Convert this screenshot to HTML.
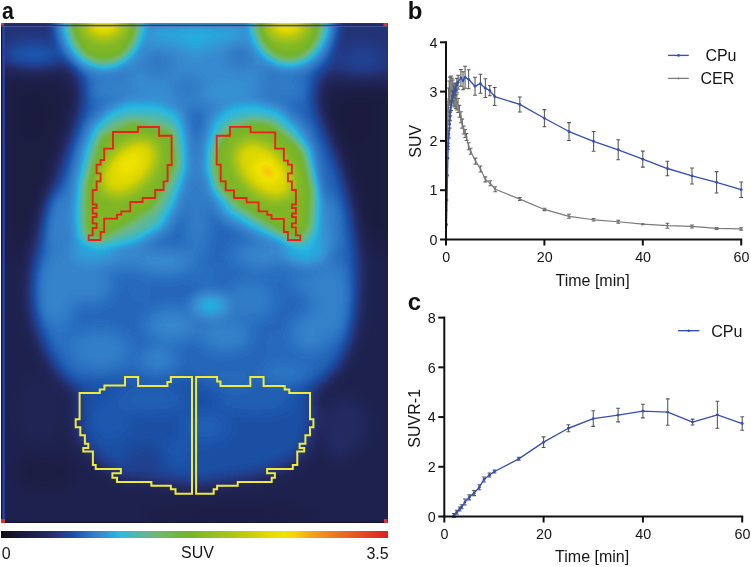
<!DOCTYPE html>
<html><head><meta charset="utf-8">
<style>
html,body{margin:0;padding:0;background:#fff;width:751px;height:567px;overflow:hidden}
svg{display:block}
body>svg{will-change:transform}
text{font-family:"Liberation Sans",sans-serif;fill:#161616}
.tk{font-size:14.3px}
.lb{font-size:16px}
.pl{font-size:24px;font-weight:bold;fill:#111}
</style></head><body>
<svg width="751" height="567" viewBox="0 0 751 567">
<defs>
<filter id="cm" x="-10%" y="-10%" width="120%" height="120%" color-interpolation-filters="sRGB">
<feGaussianBlur stdDeviation="4"/>
<feComponentTransfer>
<feFuncR type="table" tableValues="0.0314 0.0491 0.0669 0.0782 0.0878 0.0963 0.1027 0.1090 0.1154 0.1218 0.1282 0.1346 0.1410 0.1396 0.1380 0.1325 0.1234 0.1109 0.1079 0.1262 0.1444 0.1627 0.1800 0.1972 0.2144 0.2132 0.2041 0.1592 0.1366 0.1792 0.2084 0.2339 0.2638 0.3021 0.3404 0.3676 0.3931 0.4133 0.4260 0.4388 0.4392 0.4392 0.4392 0.4392 0.4400 0.4528 0.4655 0.4830 0.5034 0.5238 0.5443 0.5647 0.5852 0.6056 0.6261 0.6465 0.6670 0.6874 0.7079 0.7300 0.7556 0.7811 0.8067 0.8323 0.8578 0.8809 0.8937 0.9065 0.9192 0.9320 0.9448 0.9576 0.9704 0.9690 0.9648 0.9605 0.9562 0.9514 0.9466 0.9418 0.9370 0.9322 0.9274 0.9226 0.9178 0.9130 0.9088 0.9056 0.9024 0.8992 0.8960 0.8926 0.8891 0.8855 0.8820 0.8784"/>
<feFuncG type="table" tableValues="0.0314 0.0491 0.0669 0.0794 0.0906 0.1007 0.1087 0.1167 0.1261 0.1357 0.1466 0.1594 0.1722 0.1943 0.2166 0.2404 0.2655 0.2940 0.3256 0.3621 0.3986 0.4352 0.4654 0.4949 0.5244 0.5588 0.5953 0.6497 0.6958 0.7171 0.7216 0.7216 0.7216 0.7216 0.7216 0.7216 0.7216 0.7216 0.7216 0.7216 0.7216 0.7216 0.7183 0.7119 0.7059 0.7059 0.7059 0.7105 0.7182 0.7259 0.7335 0.7412 0.7489 0.7553 0.7604 0.7656 0.7707 0.7758 0.7809 0.7877 0.7979 0.8081 0.8184 0.8286 0.8388 0.8489 0.8585 0.8681 0.8777 0.8873 0.8850 0.8531 0.8211 0.7804 0.7378 0.6951 0.6541 0.6222 0.5902 0.5583 0.5263 0.4959 0.4703 0.4448 0.4192 0.3936 0.3670 0.3383 0.3095 0.2808 0.2520 0.2249 0.2000 0.1752 0.1503 0.1255"/>
<feFuncB type="table" tableValues="0.0627 0.1053 0.1479 0.1771 0.2026 0.2260 0.2452 0.2644 0.2892 0.3147 0.3417 0.3704 0.3992 0.4497 0.5008 0.5420 0.5740 0.6229 0.6677 0.6951 0.7225 0.7499 0.7682 0.7854 0.8026 0.8206 0.8388 0.8616 0.8784 0.8784 0.8381 0.7870 0.7359 0.6848 0.6337 0.5938 0.5554 0.5117 0.4605 0.4094 0.3707 0.3324 0.2940 0.2557 0.2181 0.1925 0.1670 0.1538 0.1487 0.1435 0.1384 0.1333 0.1282 0.1207 0.1105 0.1003 0.0900 0.0798 0.0696 0.0594 0.0491 0.0389 0.0287 0.0185 0.0082 0.0000 0.0000 0.0000 0.0000 0.0000 0.0036 0.0164 0.0292 0.0455 0.0625 0.0796 0.0951 0.1014 0.1078 0.1142 0.1206 0.1255 0.1255 0.1255 0.1255 0.1255 0.1255 0.1255 0.1255 0.1255 0.1255 0.1255 0.1255 0.1255 0.1255 0.1255"/>
</feComponentTransfer>
</filter>
<filter id="pb7" x="-20%" y="-20%" width="140%" height="140%" color-interpolation-filters="sRGB"><feGaussianBlur stdDeviation="7"/></filter>
<filter id="pb3" x="-20%" y="-20%" width="140%" height="140%" color-interpolation-filters="sRGB"><feGaussianBlur stdDeviation="3"/></filter>
<linearGradient id="cbg" x1="0" y1="0" x2="1" y2="0">
<stop offset="0.0000" stop-color="rgb(8,8,16)"/>
<stop offset="0.0233" stop-color="rgb(18,18,40)"/>
<stop offset="0.0491" stop-color="rgb(24,25,56)"/>
<stop offset="0.0749" stop-color="rgb(28,30,68)"/>
<stop offset="0.1008" stop-color="rgb(32,36,84)"/>
<stop offset="0.1266" stop-color="rgb(36,44,102)"/>
<stop offset="0.1525" stop-color="rgb(35,58,134)"/>
<stop offset="0.1705" stop-color="rgb(31,69,148)"/>
<stop offset="0.1860" stop-color="rgb(26,80,168)"/>
<stop offset="0.2222" stop-color="rgb(42,112,192)"/>
<stop offset="0.2558" stop-color="rgb(56,136,206)"/>
<stop offset="0.2739" stop-color="rgb(52,152,214)"/>
<stop offset="0.2920" stop-color="rgb(32,176,224)"/>
<stop offset="0.3075" stop-color="rgb(48,184,224)"/>
<stop offset="0.3333" stop-color="rgb(64,184,192)"/>
<stop offset="0.3592" stop-color="rgb(88,184,160)"/>
<stop offset="0.3850" stop-color="rgb(104,184,136)"/>
<stop offset="0.4109" stop-color="rgb(112,184,104)"/>
<stop offset="0.4367" stop-color="rgb(112,184,80)"/>
<stop offset="0.4625" stop-color="rgb(112,180,56)"/>
<stop offset="0.4884" stop-color="rgb(120,180,40)"/>
<stop offset="0.5530" stop-color="rgb(152,192,32)"/>
<stop offset="0.6176" stop-color="rgb(184,200,16)"/>
<stop offset="0.6822" stop-color="rgb(224,216,0)"/>
<stop offset="0.7339" stop-color="rgb(240,228,0)"/>
<stop offset="0.7597" stop-color="rgb(248,208,8)"/>
<stop offset="0.7984" stop-color="rgb(244,168,24)"/>
<stop offset="0.8501" stop-color="rgb(238,128,32)"/>
<stop offset="0.9018" stop-color="rgb(232,96,32)"/>
<stop offset="0.9535" stop-color="rgb(228,60,32)"/>
<stop offset="1.0000" stop-color="rgb(224,32,32)"/>
</linearGradient>
</defs>
<svg x="1" y="23" width="387" height="500" overflow="hidden">
<g transform="translate(-1,-23)">
<g filter="url(#cm)">
<g filter="url(#pb7)">
<rect x="-40" y="-20" width="470" height="580" fill="rgb(23,23,23)"/>
<polygon points="-40.0,-20.0 430.0,-20.0 430.0,80.0 340.0,80.0 300.0,75.0 90.0,80.0 60.0,66.0 -40.0,66.0" fill="rgb(36,36,36)"/>
<ellipse cx="34" cy="56" rx="30" ry="13" fill="rgb(51,51,51)"/>
<ellipse cx="362" cy="60" rx="22" ry="13" fill="rgb(43,43,43)"/>
<polygon points="8.0,74.0 48.0,74.0 80.0,99.0 66.0,135.0 50.0,190.0 36.0,240.0 22.0,262.0 8.0,262.0" fill="rgb(20,20,20)"/>
<polygon points="10.0,86.0 44.0,86.0 64.0,102.0 54.0,135.0 42.0,185.0 30.0,225.0 10.0,235.0" fill="rgb(18,18,18)"/>
<ellipse cx="32" cy="115" rx="16" ry="22" fill="rgb(16,16,16)"/>
<polygon points="392.0,82.0 332.0,82.0 316.0,104.0 326.0,150.0 346.0,200.0 358.0,245.0 392.0,260.0" fill="rgb(20,20,20)"/>
<polygon points="392.0,92.0 340.0,94.0 328.0,110.0 338.0,150.0 354.0,195.0 364.0,232.0 392.0,240.0" fill="rgb(17,17,17)"/>
<ellipse cx="355" cy="118" rx="18" ry="25" fill="rgb(16,16,16)"/>
<ellipse cx="45" cy="472" rx="30" ry="18" fill="rgb(19,19,19)"/>
<ellipse cx="230" cy="515" rx="90" ry="12" fill="rgb(20,20,20)"/>
<polygon points="73.0,0.0 73.0,60.0 80.0,80.0 82.0,100.0 75.0,125.0 66.0,150.0 58.0,175.0 48.0,200.0 40.0,230.0 33.0,260.0 31.0,290.0 33.0,320.0 42.0,345.0 55.0,370.0 73.0,388.0 100.0,392.0 200.0,390.0 290.0,392.0 320.0,386.0 340.0,365.0 352.0,340.0 357.0,310.0 359.0,280.0 358.0,250.0 355.0,225.0 350.0,200.0 342.0,170.0 330.0,140.0 316.0,105.0 318.0,75.0 330.0,60.0 330.0,0.0" fill="rgb(54,54,54)"/>
<polygon points="80.0,380.0 312.0,380.0 316.0,420.0 308.0,450.0 292.0,464.0 262.0,476.0 200.0,486.0 125.0,478.0 98.0,462.0 78.0,440.0 76.0,400.0" fill="rgb(47,47,47)"/>
<ellipse cx="205" cy="427" rx="25" ry="15" fill="rgb(52,52,52)"/>
<ellipse cx="150" cy="400" rx="40" ry="14" fill="rgb(52,52,52)"/>
<ellipse cx="255" cy="400" rx="40" ry="14" fill="rgb(52,52,52)"/>
<ellipse cx="110" cy="420" rx="20" ry="20" fill="rgb(50,50,50)"/>
<ellipse cx="174" cy="453" rx="15" ry="10" fill="rgb(51,51,51)"/>
<ellipse cx="146" cy="462" rx="20" ry="15" fill="rgb(42,42,42)"/>
<ellipse cx="345" cy="425" rx="22" ry="28" fill="rgb(31,31,31)"/>
<ellipse cx="337" cy="446" rx="12" ry="12" fill="rgb(33,33,33)"/>
<ellipse cx="40" cy="410" rx="25" ry="35" fill="rgb(26,26,26)"/>
<ellipse cx="90" cy="285" rx="22" ry="18" fill="rgb(64,64,64)"/>
<ellipse cx="172" cy="325" rx="26" ry="16" fill="rgb(65,65,65)"/>
<ellipse cx="158" cy="360" rx="18" ry="12" fill="rgb(64,64,64)"/>
<ellipse cx="310" cy="333" rx="18" ry="18" fill="rgb(64,64,64)"/>
<ellipse cx="315" cy="282" rx="24" ry="12" fill="rgb(64,64,64)"/>
<ellipse cx="197" cy="205" rx="12" ry="55" fill="rgb(62,62,62)"/>
<ellipse cx="250" cy="300" rx="25" ry="20" fill="rgb(61,61,61)"/>
<ellipse cx="120" cy="255" rx="40" ry="15" fill="rgb(62,62,62)"/>
<ellipse cx="270" cy="255" rx="40" ry="15" fill="rgb(62,62,62)"/>
<ellipse cx="140" cy="290" rx="12" ry="15" fill="rgb(55,55,55)"/>
<ellipse cx="278" cy="347" rx="12" ry="18" fill="rgb(55,55,55)"/>
<ellipse cx="60" cy="320" rx="15" ry="30" fill="rgb(57,57,57)"/>
<ellipse cx="55" cy="290" rx="20" ry="35" fill="rgb(64,64,64)"/>
<ellipse cx="165" cy="262" rx="28" ry="12" fill="rgb(67,67,67)"/>
<ellipse cx="118" cy="256" rx="28" ry="9" fill="rgb(67,67,67)"/>
<ellipse cx="272" cy="256" rx="30" ry="9" fill="rgb(67,67,67)"/>
<ellipse cx="205" cy="275" rx="15" ry="10" fill="rgb(57,57,57)"/>
<ellipse cx="290" cy="270" rx="22" ry="12" fill="rgb(57,57,57)"/>
<ellipse cx="330" cy="300" rx="20" ry="40" fill="rgb(63,63,63)"/>
<ellipse cx="58" cy="222" rx="14" ry="32" fill="rgb(64,64,64)"/>
<ellipse cx="308" cy="238" rx="28" ry="22" fill="rgb(71,71,71)"/>
<ellipse cx="322" cy="215" rx="14" ry="18" fill="rgb(68,68,68)"/>
<ellipse cx="95" cy="250" rx="25" ry="10" fill="rgb(69,69,69)"/>
<ellipse cx="100" cy="350" rx="30" ry="20" fill="rgb(62,62,62)"/>
<ellipse cx="75" cy="265" rx="25" ry="15" fill="rgb(64,64,64)"/>
<ellipse cx="225" cy="335" rx="25" ry="15" fill="rgb(64,64,64)"/>
<ellipse cx="285" cy="375" rx="25" ry="10" fill="rgb(60,60,60)"/>
<ellipse cx="230" cy="380" rx="30" ry="10" fill="rgb(55,55,55)"/>
<polygon points="135.0,20.0 255.0,20.0 255.0,50.0 135.0,50.0" fill="rgb(73,73,73)"/>
<polygon points="120.0,45.0 270.0,45.0 262.0,100.0 215.0,108.0 180.0,108.0 130.0,100.0" fill="rgb(66,66,66)"/>
<ellipse cx="196" cy="40" rx="14" ry="12" fill="rgb(75,75,75)"/>
<ellipse cx="158" cy="63" rx="15" ry="13" fill="rgb(59,59,59)"/>
<ellipse cx="188" cy="88" rx="14" ry="11" fill="rgb(59,59,59)"/>
<ellipse cx="240" cy="55" rx="12" ry="12" fill="rgb(57,57,57)"/>
<ellipse cx="155" cy="100" rx="18" ry="10" fill="rgb(69,69,69)"/>
<ellipse cx="228" cy="97" rx="22" ry="12" fill="rgb(70,70,70)"/>
<ellipse cx="112" cy="88" rx="22" ry="12" fill="rgb(64,64,64)"/>
<ellipse cx="285" cy="88" rx="20" ry="12" fill="rgb(62,62,62)"/>
</g>
<g filter="url(#pb3)">
<ellipse cx="104" cy="20" rx="50" ry="56" fill="rgb(67,67,67)"/>
<ellipse cx="289" cy="20" rx="48" ry="54" fill="rgb(67,67,67)"/>
<polygon points="129.0,94.0 165.0,96.0 186.0,108.0 193.0,140.0 193.0,172.0 183.0,205.0 170.0,232.0 138.0,250.0 98.0,258.0 70.0,249.0 67.0,215.0 70.0,183.0 78.0,148.0 88.0,122.0 108.0,104.0" fill="rgb(67,67,67)"/>
<polygon points="253.6,95.0 228.0,98.0 207.0,113.0 199.0,145.0 199.0,172.0 206.0,195.0 221.0,220.0 258.0,240.0 278.0,247.0 306.0,255.0 320.0,232.0 323.0,195.0 316.0,148.0 305.0,125.0 282.0,104.0" fill="rgb(67,67,67)"/>
<ellipse cx="305" cy="252" rx="22" ry="14" fill="rgb(73,73,73)"/>
<ellipse cx="92" cy="252" rx="22" ry="12" fill="rgb(71,71,71)"/>
</g>
<ellipse cx="104" cy="20" rx="41" ry="48" fill="rgb(79,79,79)"/>
<ellipse cx="104" cy="20" rx="37" ry="45" fill="rgb(94,94,94)"/>
<ellipse cx="104" cy="20" rx="33" ry="41" fill="rgb(128,128,128)"/>
<ellipse cx="104" cy="25" rx="22" ry="17" fill="rgb(153,153,153)"/>
<ellipse cx="104" cy="25" rx="15" ry="10" fill="rgb(176,176,176)"/>
<ellipse cx="104" cy="24" rx="8" ry="6" fill="rgb(186,186,186)"/>
<ellipse cx="289" cy="20" rx="40" ry="46" fill="rgb(79,79,79)"/>
<ellipse cx="289" cy="20" rx="36" ry="43" fill="rgb(94,94,94)"/>
<ellipse cx="289" cy="20" rx="32" ry="39" fill="rgb(128,128,128)"/>
<ellipse cx="287" cy="25" rx="22" ry="17" fill="rgb(153,153,153)"/>
<ellipse cx="287" cy="25" rx="15" ry="10" fill="rgb(176,176,176)"/>
<ellipse cx="287" cy="24" rx="8" ry="6" fill="rgb(186,186,186)"/>
<polygon points="129.0,103.0 160.0,105.0 178.0,114.0 185.0,140.0 185.0,170.0 175.0,200.0 163.0,225.0 135.0,242.0 98.0,250.0 78.0,241.0 76.0,215.0 78.0,185.0 86.0,150.0 95.0,127.0 110.0,112.0" fill="rgb(79,79,79)"/>
<polygon points="130.0,114.0 160.0,115.0 176.0,124.0 181.0,150.0 180.0,175.0 168.0,205.0 155.0,225.0 133.0,237.0 98.0,245.0 82.0,237.0 80.0,210.0 82.0,185.0 89.0,152.0 98.0,131.0 112.0,118.0" fill="rgb(94,94,94)"/>
<polygon points="132.0,122.0 172.0,132.0 177.0,164.0 153.0,208.0 120.0,228.0 98.0,240.0 86.0,232.0 86.0,186.0 101.0,137.0" fill="rgb(128,128,128)"/>
<ellipse cx="129" cy="168" rx="23" ry="36" fill="rgb(150,150,150)" transform="rotate(45 129 168)"/>
<ellipse cx="129" cy="167" rx="18" ry="30" fill="rgb(173,173,173)" transform="rotate(45 129 167)"/>
<ellipse cx="129" cy="165" rx="9" ry="15" fill="rgb(186,186,186)" transform="rotate(45 129 165)"/>
<polygon points="253.6,104.0 230.0,107.0 215.4,120.0 207.5,145.0 207.5,169.4 213.7,190.0 228.1,213.9 260.0,231.7 279.0,239.3 306.0,252.0 318.0,235.0 320.0,200.0 310.0,150.0 298.0,131.3 280.0,112.0" fill="rgb(79,79,79)"/>
<polygon points="253.6,115.0 231.0,119.0 218.0,131.0 211.0,152.0 211.0,170.0 216.0,189.0 233.0,209.0 262.0,227.0 287.0,240.0 304.0,246.0 314.0,230.0 316.0,195.0 306.0,150.0 293.0,134.0 275.0,118.0" fill="rgb(94,94,94)"/>
<polygon points="253.6,121.8 232.0,128.0 220.0,140.0 213.8,160.0 218.0,185.0 237.7,204.4 265.0,222.0 296.0,240.0 309.0,228.0 312.0,190.0 302.0,150.0 288.5,137.7 270.0,124.0" fill="rgb(128,128,128)"/>
<ellipse cx="264" cy="170" rx="24" ry="37" fill="rgb(150,150,150)" transform="rotate(-45 264 170)"/>
<ellipse cx="264" cy="170" rx="19" ry="31" fill="rgb(173,173,173)" transform="rotate(-45 264 170)"/>
<ellipse cx="267" cy="171" rx="10" ry="15" fill="rgb(189,189,189)" transform="rotate(-45 267 171)"/>
<ellipse cx="268" cy="172" rx="5" ry="7" fill="rgb(201,201,201)" transform="rotate(-45 268 172)"/>
<ellipse cx="211" cy="306" rx="23" ry="16" fill="rgb(65,65,65)"/>
<ellipse cx="211" cy="306" rx="16" ry="11" fill="rgb(70,70,70)"/>
<ellipse cx="211" cy="305" rx="9" ry="6" fill="rgb(76,76,76)"/>
</g>
<rect x="1" y="23" width="1.3" height="500" fill="#121238"/>
<rect x="2.4" y="23" width="2.4" height="500" fill="#2a42a2"/>
<rect x="1" y="24.8" width="387" height="1" fill="#1a1a3a" opacity="0.9"/>
<rect x="1" y="25.8" width="387" height="1.1" fill="#6a6aa0" opacity="0.6"/>
<rect x="1" y="521.6" width="387" height="1.5" fill="#121634" opacity="0.8"/>
<path d="M1 23h3v2.5h-3zM383.5 23h4.2v3h-4.2zM1 519h4v4h-4zM384 519h3.7v4h-3.7z" fill="#e03030"/>
<g fill="none" stroke-width="1.85" stroke-linejoin="miter">
<polygon points="113.0,132.0 138.0,132.0 138.0,127.0 159.0,127.0 159.0,135.7 171.6,135.7 171.6,165.0 167.6,165.0 167.6,181.3 163.6,181.3 163.6,190.0 155.2,190.0 155.2,198.0 142.6,198.0 142.6,202.0 130.3,202.0 130.3,211.3 121.3,211.3 121.3,214.6 117.0,214.6 117.0,218.6 104.2,218.6 104.2,232.0 100.6,232.0 100.6,240.0 88.7,240.0 88.7,235.3 92.7,235.3 92.7,228.0 96.6,228.0 96.6,223.3 92.7,223.3 92.7,217.0 96.6,217.0 96.6,213.5 92.7,213.5 92.7,208.0 96.6,208.0 96.6,204.5 92.7,204.5 92.7,190.0 96.6,190.0 96.6,181.3 100.6,181.3 100.6,173.3 96.6,173.3 96.6,164.6 100.6,164.6 100.6,160.0 104.2,160.0 104.2,148.6 113.0,148.6" stroke="#ea201b"/>
<polygon points="216.7,135.7 230.0,135.7 230.0,126.9 250.6,126.9 250.6,132.3 275.2,132.3 275.2,148.6 283.9,148.6 283.9,160.6 287.9,160.6 287.9,164.6 291.9,164.6 291.9,173.3 287.9,173.3 287.9,181.3 291.9,181.3 291.9,190.0 295.9,190.0 295.9,204.5 291.9,204.5 291.9,208.0 295.9,208.0 295.9,213.5 291.9,213.5 291.9,217.0 295.9,217.0 295.9,223.3 291.9,223.3 291.9,227.3 295.9,227.3 295.9,235.3 300.3,235.3 300.3,240.0 287.9,240.0 287.9,232.0 283.9,232.0 283.9,218.9 271.5,218.9 271.5,214.9 267.3,214.9 267.3,211.3 258.6,211.3 258.6,202.4 246.6,202.4 246.6,198.0 234.0,198.0 234.0,190.4 225.7,190.4 225.7,181.3 220.7,181.3 220.7,164.6 216.7,164.6" stroke="#ea201b"/>
</g>
<g fill="none" stroke-width="2" stroke-linejoin="miter">
<polygon points="125.0,376.9 138.1,376.9 138.1,386.0 167.4,386.0 167.4,381.9 170.9,381.9 170.9,376.9 192.0,376.9 192.0,493.8 175.5,493.8 175.5,489.2 170.9,489.2 170.9,485.8 151.4,485.8 151.4,481.9 117.0,481.9 117.0,477.8 112.4,477.8 112.4,473.2 120.9,473.2 120.9,469.0 95.7,469.0 95.7,465.1 92.9,465.1 92.9,451.4 83.3,451.4 83.3,448.0 88.3,448.0 88.3,443.8 84.9,443.8 84.9,435.3 80.3,435.3 80.3,427.3 75.7,427.3 75.7,419.3 79.6,419.3 79.6,392.9 99.8,392.9 99.8,389.5 104.4,389.5 104.4,385.6 125.0,385.6" stroke="#eeea3c"/>
<polygon points="196.1,376.9 217.1,376.9 217.1,381.5 220.5,381.5 220.5,386.0 250.3,386.0 250.3,376.9 263.6,376.9 263.6,386.0 284.7,386.0 284.7,389.5 289.3,389.5 289.3,392.9 310.0,392.9 310.0,419.3 313.4,419.3 313.4,427.3 310.0,427.3 310.0,435.3 305.4,435.3 305.4,443.8 299.6,443.8 299.6,448.0 304.2,448.0 304.2,451.4 297.3,451.4 297.3,465.1 292.8,465.1 292.8,469.0 267.1,469.0 267.1,473.2 274.9,473.2 274.9,477.8 271.7,477.8 271.7,481.9 237.7,481.9 237.7,485.8 217.1,485.8 217.1,489.2 213.7,489.2 213.7,493.8 196.1,493.8" stroke="#eeea3c"/>
</g>
</g>
</svg>
<rect x="1" y="531" width="387" height="7" fill="url(#cbg)"/>
<text x="1.8" y="558.5" class="lb">0</text>
<text x="181" y="558.3" class="lb">SUV</text>
<text x="388.7" y="558.5" class="lb" text-anchor="end">3.5</text>
<text transform="translate(2.1 18.6) scale(0.885 1.02)" class="pl">a</text>
<text x="407.7" y="18.6" class="pl">b</text>
<text x="407.8" y="309.6" class="pl">c</text>
<!-- chart b -->
<path d="M447.48 123.04V139.04M445.58 123.04H449.38M445.58 139.04H449.38" stroke="#666666" stroke-width="1.05" fill="none"/>
<path d="M447.97 101.32V121.32M446.07 101.32H449.87M446.07 121.32H449.87" stroke="#666666" stroke-width="1.05" fill="none"/>
<path d="M448.46 88.00V110.00M446.56 88.00H450.36M446.56 110.00H450.36" stroke="#666666" stroke-width="1.05" fill="none"/>
<path d="M449.20 81.08V105.08M447.30 81.08H451.10M447.30 105.08H451.10" stroke="#666666" stroke-width="1.05" fill="none"/>
<path d="M449.94 77.12V103.12M448.04 77.12H451.84M448.04 103.12H451.84" stroke="#666666" stroke-width="1.05" fill="none"/>
<path d="M450.92 76.14V102.14M449.02 76.14H452.82M449.02 102.14H452.82" stroke="#666666" stroke-width="1.05" fill="none"/>
<path d="M451.90 78.12V102.12M450.00 78.12H453.80M450.00 102.12H453.80" stroke="#666666" stroke-width="1.05" fill="none"/>
<path d="M452.89 80.09V104.09M450.99 80.09H454.79M450.99 104.09H454.79" stroke="#666666" stroke-width="1.05" fill="none"/>
<path d="M453.87 84.05V106.05M451.97 84.05H455.77M451.97 106.05H455.77" stroke="#666666" stroke-width="1.05" fill="none"/>
<path d="M454.86 87.02V107.02M452.96 87.02H456.76M452.96 107.02H456.76" stroke="#666666" stroke-width="1.05" fill="none"/>
<path d="M455.84 90.49V108.49M453.94 90.49H457.74M453.94 108.49H457.74" stroke="#666666" stroke-width="1.05" fill="none"/>
<path d="M456.82 93.95V109.95M454.92 93.95H458.72M454.92 109.95H458.72" stroke="#666666" stroke-width="1.05" fill="none"/>
<path d="M458.10 98.40V112.40M456.20 98.40H460.00M456.20 112.40H460.00" stroke="#666666" stroke-width="1.05" fill="none"/>
<path d="M459.53 105.32V117.32M457.63 105.32H461.43M457.63 117.32H461.43" stroke="#666666" stroke-width="1.05" fill="none"/>
<path d="M460.91 111.74V122.74M459.01 111.74H462.81M459.01 122.74H462.81" stroke="#666666" stroke-width="1.05" fill="none"/>
<path d="M462.24 119.14V128.14M460.34 119.14H464.14M460.34 128.14H464.14" stroke="#666666" stroke-width="1.05" fill="none"/>
<path d="M463.71 126.05V134.05M461.81 126.05H465.61M461.81 134.05H465.61" stroke="#666666" stroke-width="1.05" fill="none"/>
<path d="M465.19 129.50V137.50M463.29 129.50H467.09M463.29 137.50H467.09" stroke="#666666" stroke-width="1.05" fill="none"/>
<path d="M466.52 133.46V140.46M464.62 133.46H468.42M464.62 140.46H468.42" stroke="#666666" stroke-width="1.05" fill="none"/>
<path d="M468.63 142.82V149.82M466.73 142.82H470.53M466.73 149.82H470.53" stroke="#666666" stroke-width="1.05" fill="none"/>
<path d="M470.60 148.25V154.25M468.70 148.25H472.50M468.70 154.25H472.50" stroke="#666666" stroke-width="1.05" fill="none"/>
<path d="M475.52 158.11V164.11M473.62 158.11H477.42M473.62 164.11H477.42" stroke="#666666" stroke-width="1.05" fill="none"/>
<path d="M480.44 166.00V172.00M478.54 166.00H482.34M478.54 172.00H482.34" stroke="#666666" stroke-width="1.05" fill="none"/>
<path d="M485.36 176.85V181.85M483.46 176.85H487.26M483.46 181.85H487.26" stroke="#666666" stroke-width="1.05" fill="none"/>
<path d="M490.28 180.80V185.80M488.38 180.80H492.18M488.38 185.80H492.18" stroke="#666666" stroke-width="1.05" fill="none"/>
<path d="M495.20 186.71V191.71M493.30 186.71H497.10M493.30 191.71H497.10" stroke="#666666" stroke-width="1.05" fill="none"/>
<path d="M519.80 197.57V200.57M517.90 197.57H521.70M517.90 200.57H521.70" stroke="#666666" stroke-width="1.05" fill="none"/>
<path d="M544.40 208.23V210.63M542.50 208.23H546.30M542.50 210.63H546.30" stroke="#666666" stroke-width="1.05" fill="none"/>
<path d="M569.00 214.33V218.33M567.10 214.33H570.90M567.10 218.33H570.90" stroke="#666666" stroke-width="1.05" fill="none"/>
<path d="M593.60 218.58V220.98M591.70 218.58H595.50M591.70 220.98H595.50" stroke="#666666" stroke-width="1.05" fill="none"/>
<path d="M618.20 220.25V223.25M616.30 220.25H620.10M616.30 223.25H620.10" stroke="#666666" stroke-width="1.05" fill="none"/>
<path d="M642.80 223.72V224.72M640.90 223.72H644.70M640.90 224.72H644.70" stroke="#666666" stroke-width="1.05" fill="none"/>
<path d="M667.40 223.20V228.20M665.50 223.20H669.30M665.50 228.20H669.30" stroke="#666666" stroke-width="1.05" fill="none"/>
<path d="M692.00 224.94V227.94M690.10 224.94H693.90M690.10 227.94H693.90" stroke="#666666" stroke-width="1.05" fill="none"/>
<path d="M716.60 227.41V229.41M714.70 227.41H718.50M714.70 229.41H718.50" stroke="#666666" stroke-width="1.05" fill="none"/>
<path d="M741.20 227.70V230.10M739.30 227.70H743.10M739.30 230.10H743.10" stroke="#666666" stroke-width="1.05" fill="none"/>
<polyline points="446.00,239.50 446.49,209.92 446.98,165.55 447.48,131.04 447.97,111.32 448.46,99.00 449.20,93.08 449.94,90.12 450.92,89.14 451.90,90.12 452.89,92.09 453.87,95.05 454.86,97.02 455.84,99.49 456.82,101.95 458.10,105.40 459.53,111.32 460.91,117.24 462.24,123.64 463.71,130.05 465.19,133.50 466.52,136.96 468.63,146.32 470.60,151.25 475.52,161.11 480.44,169.00 485.36,179.35 490.28,183.30 495.20,189.21 519.80,199.07 544.40,209.43 569.00,216.33 593.60,219.78 618.20,221.75 642.80,224.22 667.40,225.70 692.00,226.44 716.60,228.41 741.20,228.90" stroke="#7a7a7a" stroke-width="1.2" fill="none" stroke-linejoin="round"/>
<circle cx="446.00" cy="239.50" r="1" fill="#7a7a7a"/>
<circle cx="446.49" cy="209.92" r="1" fill="#7a7a7a"/>
<circle cx="446.98" cy="165.55" r="1" fill="#7a7a7a"/>
<circle cx="447.48" cy="131.04" r="1" fill="#7a7a7a"/>
<circle cx="447.97" cy="111.32" r="1" fill="#7a7a7a"/>
<circle cx="448.46" cy="99.00" r="1" fill="#7a7a7a"/>
<circle cx="449.20" cy="93.08" r="1" fill="#7a7a7a"/>
<circle cx="449.94" cy="90.12" r="1" fill="#7a7a7a"/>
<circle cx="450.92" cy="89.14" r="1" fill="#7a7a7a"/>
<circle cx="451.90" cy="90.12" r="1" fill="#7a7a7a"/>
<circle cx="452.89" cy="92.09" r="1" fill="#7a7a7a"/>
<circle cx="453.87" cy="95.05" r="1" fill="#7a7a7a"/>
<circle cx="454.86" cy="97.02" r="1" fill="#7a7a7a"/>
<circle cx="455.84" cy="99.49" r="1" fill="#7a7a7a"/>
<circle cx="456.82" cy="101.95" r="1" fill="#7a7a7a"/>
<circle cx="458.10" cy="105.40" r="1" fill="#7a7a7a"/>
<circle cx="459.53" cy="111.32" r="1" fill="#7a7a7a"/>
<circle cx="460.91" cy="117.24" r="1" fill="#7a7a7a"/>
<circle cx="462.24" cy="123.64" r="1" fill="#7a7a7a"/>
<circle cx="463.71" cy="130.05" r="1" fill="#7a7a7a"/>
<circle cx="465.19" cy="133.50" r="1" fill="#7a7a7a"/>
<circle cx="466.52" cy="136.96" r="1" fill="#7a7a7a"/>
<circle cx="468.63" cy="146.32" r="1" fill="#7a7a7a"/>
<circle cx="470.60" cy="151.25" r="1" fill="#7a7a7a"/>
<circle cx="475.52" cy="161.11" r="1" fill="#7a7a7a"/>
<circle cx="480.44" cy="169.00" r="1" fill="#7a7a7a"/>
<circle cx="485.36" cy="179.35" r="1" fill="#7a7a7a"/>
<circle cx="490.28" cy="183.30" r="1" fill="#7a7a7a"/>
<circle cx="495.20" cy="189.21" r="1" fill="#7a7a7a"/>
<circle cx="519.80" cy="199.07" r="1" fill="#7a7a7a"/>
<circle cx="544.40" cy="209.43" r="1" fill="#7a7a7a"/>
<circle cx="569.00" cy="216.33" r="1" fill="#7a7a7a"/>
<circle cx="593.60" cy="219.78" r="1" fill="#7a7a7a"/>
<circle cx="618.20" cy="221.75" r="1" fill="#7a7a7a"/>
<circle cx="642.80" cy="224.22" r="1" fill="#7a7a7a"/>
<circle cx="667.40" cy="225.70" r="1" fill="#7a7a7a"/>
<circle cx="692.00" cy="226.44" r="1" fill="#7a7a7a"/>
<circle cx="716.60" cy="228.41" r="1" fill="#7a7a7a"/>
<circle cx="741.20" cy="228.90" r="1" fill="#7a7a7a"/>
<path d="M448.21 143.32V149.32M446.31 143.32H450.11M446.31 149.32H450.11" stroke="#555555" stroke-width="1.05" fill="none"/>
<path d="M448.90 130.00V138.00M447.00 130.00H450.80M447.00 138.00H450.80" stroke="#555555" stroke-width="1.05" fill="none"/>
<path d="M449.59 120.14V128.14M447.69 120.14H451.49M447.69 128.14H451.49" stroke="#555555" stroke-width="1.05" fill="none"/>
<path d="M449.94 112.74V120.74M448.04 112.74H451.84M448.04 120.74H451.84" stroke="#555555" stroke-width="1.05" fill="none"/>
<path d="M450.33 107.81V115.81M448.43 107.81H452.23M448.43 115.81H452.23" stroke="#555555" stroke-width="1.05" fill="none"/>
<path d="M451.02 100.40V110.40M449.12 100.40H452.92M449.12 110.40H452.92" stroke="#555555" stroke-width="1.05" fill="none"/>
<path d="M452.49 91.04V101.04M450.59 91.04H454.39M450.59 101.04H454.39" stroke="#555555" stroke-width="1.05" fill="none"/>
<path d="M453.87 86.09V98.09M451.97 86.09H455.77M451.97 98.09H455.77" stroke="#555555" stroke-width="1.05" fill="none"/>
<path d="M455.30 83.14V95.14M453.40 83.14H457.20M453.40 95.14H457.20" stroke="#555555" stroke-width="1.05" fill="none"/>
<path d="M456.82 78.19V92.19M454.92 78.19H458.72M454.92 92.19H458.72" stroke="#555555" stroke-width="1.05" fill="none"/>
<path d="M458.10 75.23V89.23M456.20 75.23H460.00M456.20 89.23H460.00" stroke="#555555" stroke-width="1.05" fill="none"/>
<path d="M460.91 69.40V86.20M459.01 69.40H462.81M459.01 86.20H462.81" stroke="#555555" stroke-width="1.05" fill="none"/>
<path d="M463.02 71.75V89.75M461.12 71.75H464.92M461.12 89.75H464.92" stroke="#555555" stroke-width="1.05" fill="none"/>
<path d="M465.09 66.30V88.30M463.19 66.30H466.99M463.19 88.30H466.99" stroke="#555555" stroke-width="1.05" fill="none"/>
<path d="M468.63 69.78V88.78M466.73 69.78H470.53M466.73 88.78H470.53" stroke="#555555" stroke-width="1.05" fill="none"/>
<path d="M475.03 77.18V95.18M473.13 77.18H476.93M473.13 95.18H476.93" stroke="#555555" stroke-width="1.05" fill="none"/>
<path d="M480.44 74.21V93.21M478.54 74.21H482.34M478.54 93.21H482.34" stroke="#555555" stroke-width="1.05" fill="none"/>
<path d="M485.36 78.75V97.55M483.46 78.75H487.26M483.46 97.55H487.26" stroke="#555555" stroke-width="1.05" fill="none"/>
<path d="M489.79 85.41V95.81M487.89 85.41H491.69M487.89 95.81H491.69" stroke="#555555" stroke-width="1.05" fill="none"/>
<path d="M494.71 87.53V105.53M492.81 87.53H496.61M492.81 105.53H496.61" stroke="#555555" stroke-width="1.05" fill="none"/>
<path d="M519.80 96.92V111.92M517.90 96.92H521.70M517.90 111.92H521.70" stroke="#555555" stroke-width="1.05" fill="none"/>
<path d="M544.40 109.62V126.82M542.50 109.62H546.30M542.50 126.82H546.30" stroke="#555555" stroke-width="1.05" fill="none"/>
<path d="M569.00 122.63V140.43M567.10 122.63H570.90M567.10 140.43H570.90" stroke="#555555" stroke-width="1.05" fill="none"/>
<path d="M593.60 131.49V151.29M591.70 131.49H595.50M591.70 151.29H595.50" stroke="#555555" stroke-width="1.05" fill="none"/>
<path d="M618.20 139.77V159.77M616.30 139.77H620.10M616.30 159.77H620.10" stroke="#555555" stroke-width="1.05" fill="none"/>
<path d="M642.80 151.14V167.14M640.90 151.14H644.70M640.90 167.14H644.70" stroke="#555555" stroke-width="1.05" fill="none"/>
<path d="M667.40 161.31V175.71M665.50 161.31H669.30M665.50 175.71H669.30" stroke="#555555" stroke-width="1.05" fill="none"/>
<path d="M692.00 167.90V183.90M690.10 167.90H693.90M690.10 183.90H693.90" stroke="#555555" stroke-width="1.05" fill="none"/>
<path d="M716.60 171.61V193.01M714.70 171.61H718.50M714.70 193.01H718.50" stroke="#555555" stroke-width="1.05" fill="none"/>
<path d="M741.20 181.91V197.51M739.30 181.91H743.10M739.30 197.51H743.10" stroke="#555555" stroke-width="1.05" fill="none"/>
<polyline points="446.00,239.50 446.49,224.71 446.98,200.06 447.48,175.41 447.87,158.16 448.21,146.32 448.90,134.00 449.59,124.14 449.94,116.74 450.33,111.81 451.02,105.40 452.49,96.04 453.87,92.09 455.30,89.14 456.82,85.19 458.10,82.23 460.91,77.80 463.02,80.75 465.09,77.30 468.63,79.28 475.03,86.18 480.44,83.71 485.36,88.15 489.79,90.61 494.71,96.53 519.80,104.42 544.40,118.22 569.00,131.53 593.60,141.39 618.20,149.77 642.80,159.14 667.40,168.51 692.00,175.90 716.60,182.31 741.20,189.71" stroke="#3550b5" stroke-width="1.35" fill="none" stroke-linejoin="round"/>
<circle cx="446.00" cy="239.50" r="1.4" fill="#3550b5"/>
<circle cx="446.49" cy="224.71" r="1.4" fill="#3550b5"/>
<circle cx="446.98" cy="200.06" r="1.4" fill="#3550b5"/>
<circle cx="447.48" cy="175.41" r="1.4" fill="#3550b5"/>
<circle cx="447.87" cy="158.16" r="1.4" fill="#3550b5"/>
<circle cx="448.21" cy="146.32" r="1.4" fill="#3550b5"/>
<circle cx="448.90" cy="134.00" r="1.4" fill="#3550b5"/>
<circle cx="449.59" cy="124.14" r="1.4" fill="#3550b5"/>
<circle cx="449.94" cy="116.74" r="1.4" fill="#3550b5"/>
<circle cx="450.33" cy="111.81" r="1.4" fill="#3550b5"/>
<circle cx="451.02" cy="105.40" r="1.4" fill="#3550b5"/>
<circle cx="452.49" cy="96.04" r="1.4" fill="#3550b5"/>
<circle cx="453.87" cy="92.09" r="1.4" fill="#3550b5"/>
<circle cx="455.30" cy="89.14" r="1.4" fill="#3550b5"/>
<circle cx="456.82" cy="85.19" r="1.4" fill="#3550b5"/>
<circle cx="458.10" cy="82.23" r="1.4" fill="#3550b5"/>
<circle cx="460.91" cy="77.80" r="1.4" fill="#3550b5"/>
<circle cx="463.02" cy="80.75" r="1.4" fill="#3550b5"/>
<circle cx="465.09" cy="77.30" r="1.4" fill="#3550b5"/>
<circle cx="468.63" cy="79.28" r="1.4" fill="#3550b5"/>
<circle cx="475.03" cy="86.18" r="1.4" fill="#3550b5"/>
<circle cx="480.44" cy="83.71" r="1.4" fill="#3550b5"/>
<circle cx="485.36" cy="88.15" r="1.4" fill="#3550b5"/>
<circle cx="489.79" cy="90.61" r="1.4" fill="#3550b5"/>
<circle cx="494.71" cy="96.53" r="1.4" fill="#3550b5"/>
<circle cx="519.80" cy="104.42" r="1.4" fill="#3550b5"/>
<circle cx="544.40" cy="118.22" r="1.4" fill="#3550b5"/>
<circle cx="569.00" cy="131.53" r="1.4" fill="#3550b5"/>
<circle cx="593.60" cy="141.39" r="1.4" fill="#3550b5"/>
<circle cx="618.20" cy="149.77" r="1.4" fill="#3550b5"/>
<circle cx="642.80" cy="159.14" r="1.4" fill="#3550b5"/>
<circle cx="667.40" cy="168.51" r="1.4" fill="#3550b5"/>
<circle cx="692.00" cy="175.90" r="1.4" fill="#3550b5"/>
<circle cx="716.60" cy="182.31" r="1.4" fill="#3550b5"/>
<circle cx="741.20" cy="189.71" r="1.4" fill="#3550b5"/>
<path d="M446.00 240.50V41.20" stroke="#111" stroke-width="2" fill="none"/>
<path d="M445.00 239.50H742.20" stroke="#111" stroke-width="2" fill="none"/>
<path d="M440.00 239.50H446.00" stroke="#111" stroke-width="2"/>
<text x="437.50" y="244.70" text-anchor="end" class="tk">0</text>
<path d="M440.00 190.20H446.00" stroke="#111" stroke-width="2"/>
<text x="437.50" y="195.40" text-anchor="end" class="tk">1</text>
<path d="M440.00 140.90H446.00" stroke="#111" stroke-width="2"/>
<text x="437.50" y="146.10" text-anchor="end" class="tk">2</text>
<path d="M440.00 91.60H446.00" stroke="#111" stroke-width="2"/>
<text x="437.50" y="96.80" text-anchor="end" class="tk">3</text>
<path d="M440.00 42.30H446.00" stroke="#111" stroke-width="2"/>
<text x="437.50" y="47.50" text-anchor="end" class="tk">4</text>
<path d="M446.00 239.50V245.50" stroke="#111" stroke-width="2"/>
<text x="446.30" y="261.70" text-anchor="middle" class="tk">0</text>
<path d="M544.40 239.50V245.50" stroke="#111" stroke-width="2"/>
<text x="544.70" y="261.70" text-anchor="middle" class="tk">20</text>
<path d="M642.80 239.50V245.50" stroke="#111" stroke-width="2"/>
<text x="643.10" y="261.70" text-anchor="middle" class="tk">40</text>
<path d="M741.20 239.50V245.50" stroke="#111" stroke-width="2"/>
<text x="741.50" y="261.70" text-anchor="middle" class="tk">60</text>
<text transform="translate(421.3 141.2) rotate(-90)" text-anchor="middle" class="lb">SUV</text>
<text x="555.5" y="285.5" class="lb">Time [min]</text>
<path d="M668.1 55.4H688.8" stroke="#3550b5" stroke-width="1.35"/><circle cx="678.5" cy="55.4" r="1.4" fill="#3550b5"/>
<text x="705.4" y="60.9" class="lb">CPu</text>
<path d="M668.1 78.4H688.8" stroke="#7a7a7a" stroke-width="1.3"/><circle cx="678.5" cy="78.4" r="1" fill="#7a7a7a"/>
<text x="700.5" y="84" class="lb">CER</text>
<!-- chart c -->
<path d="M453.88 513.51V517.51M451.98 513.51H455.78M451.98 517.51H455.78" stroke="#555555" stroke-width="1.05" fill="none"/>
<path d="M456.71 510.27V514.27M454.81 510.27H458.61M454.81 514.27H458.61" stroke="#555555" stroke-width="1.05" fill="none"/>
<path d="M459.69 507.04V511.04M457.79 507.04H461.59M457.79 511.04H461.59" stroke="#555555" stroke-width="1.05" fill="none"/>
<path d="M461.68 504.80V508.80M459.78 504.80H463.58M459.78 508.80H463.58" stroke="#555555" stroke-width="1.05" fill="none"/>
<path d="M464.90 499.08V505.08M463.00 499.08H466.80M463.00 505.08H466.80" stroke="#555555" stroke-width="1.05" fill="none"/>
<path d="M469.27 494.86V499.86M467.37 494.86H471.17M467.37 499.86H471.17" stroke="#555555" stroke-width="1.05" fill="none"/>
<path d="M474.09 490.63V495.63M472.19 490.63H475.99M472.19 495.63H475.99" stroke="#555555" stroke-width="1.05" fill="none"/>
<path d="M479.30 484.67V489.67M477.40 484.67H481.20M477.40 489.67H481.20" stroke="#555555" stroke-width="1.05" fill="none"/>
<path d="M484.02 476.96V481.96M482.12 476.96H485.92M482.12 481.96H485.92" stroke="#555555" stroke-width="1.05" fill="none"/>
<path d="M489.48 472.98V476.98M487.58 472.98H491.38M487.58 476.98H491.38" stroke="#555555" stroke-width="1.05" fill="none"/>
<path d="M494.45 470.00V473.00M492.55 470.00H496.35M492.55 473.00H496.35" stroke="#555555" stroke-width="1.05" fill="none"/>
<path d="M518.77 457.32V460.32M516.88 457.32H520.67M516.88 460.32H520.67" stroke="#555555" stroke-width="1.05" fill="none"/>
<path d="M543.60 436.87V447.47M541.70 436.87H545.50M541.70 447.47H545.50" stroke="#555555" stroke-width="1.05" fill="none"/>
<path d="M568.42 424.75V431.75M566.52 424.75H570.32M566.52 431.75H570.32" stroke="#555555" stroke-width="1.05" fill="none"/>
<path d="M593.25 410.75V426.35M591.35 410.75H595.15M591.35 426.35H595.15" stroke="#555555" stroke-width="1.05" fill="none"/>
<path d="M618.08 408.27V421.87M616.18 408.27H619.98M616.18 421.87H619.98" stroke="#555555" stroke-width="1.05" fill="none"/>
<path d="M642.90 404.29V417.89M641.00 404.29H644.80M641.00 417.89H644.80" stroke="#555555" stroke-width="1.05" fill="none"/>
<path d="M667.73 398.89V425.29M665.83 398.89H669.62M665.83 425.29H669.62" stroke="#555555" stroke-width="1.05" fill="none"/>
<path d="M692.55 419.13V424.93M690.65 419.13H694.45M690.65 424.93H694.45" stroke="#555555" stroke-width="1.05" fill="none"/>
<path d="M717.38 401.32V428.32M715.48 401.32H719.27M715.48 428.32H719.27" stroke="#555555" stroke-width="1.05" fill="none"/>
<path d="M742.20 416.72V430.32M740.30 416.72H744.10M740.30 430.32H744.10" stroke="#555555" stroke-width="1.05" fill="none"/>
<polyline points="453.88,515.51 456.71,512.27 459.69,509.04 461.68,506.80 464.90,502.08 469.27,497.36 474.09,493.13 479.30,487.17 484.02,479.46 489.48,474.98 494.45,471.50 518.77,458.82 543.60,442.17 568.42,428.25 593.25,418.55 618.08,415.07 642.90,411.09 667.73,412.09 692.55,422.03 717.38,414.82 742.20,423.52" stroke="#3550b5" stroke-width="1.35" fill="none" stroke-linejoin="round"/>
<circle cx="453.88" cy="515.51" r="1.4" fill="#3550b5"/>
<circle cx="456.71" cy="512.27" r="1.4" fill="#3550b5"/>
<circle cx="459.69" cy="509.04" r="1.4" fill="#3550b5"/>
<circle cx="461.68" cy="506.80" r="1.4" fill="#3550b5"/>
<circle cx="464.90" cy="502.08" r="1.4" fill="#3550b5"/>
<circle cx="469.27" cy="497.36" r="1.4" fill="#3550b5"/>
<circle cx="474.09" cy="493.13" r="1.4" fill="#3550b5"/>
<circle cx="479.30" cy="487.17" r="1.4" fill="#3550b5"/>
<circle cx="484.02" cy="479.46" r="1.4" fill="#3550b5"/>
<circle cx="489.48" cy="474.98" r="1.4" fill="#3550b5"/>
<circle cx="494.45" cy="471.50" r="1.4" fill="#3550b5"/>
<circle cx="518.77" cy="458.82" r="1.4" fill="#3550b5"/>
<circle cx="543.60" cy="442.17" r="1.4" fill="#3550b5"/>
<circle cx="568.42" cy="428.25" r="1.4" fill="#3550b5"/>
<circle cx="593.25" cy="418.55" r="1.4" fill="#3550b5"/>
<circle cx="618.08" cy="415.07" r="1.4" fill="#3550b5"/>
<circle cx="642.90" cy="411.09" r="1.4" fill="#3550b5"/>
<circle cx="667.73" cy="412.09" r="1.4" fill="#3550b5"/>
<circle cx="692.55" cy="422.03" r="1.4" fill="#3550b5"/>
<circle cx="717.38" cy="414.82" r="1.4" fill="#3550b5"/>
<circle cx="742.20" cy="423.52" r="1.4" fill="#3550b5"/>
<path d="M444.30 517.50V316.60" stroke="#111" stroke-width="2" fill="none"/>
<path d="M443.30 516.50H743.20" stroke="#111" stroke-width="2" fill="none"/>
<path d="M438.30 516.50H444.30" stroke="#111" stroke-width="2"/>
<text x="435.80" y="521.70" text-anchor="end" class="tk">0</text>
<path d="M438.30 466.78H444.30" stroke="#111" stroke-width="2"/>
<text x="435.80" y="471.98" text-anchor="end" class="tk">2</text>
<path d="M438.30 417.06H444.30" stroke="#111" stroke-width="2"/>
<text x="435.80" y="422.26" text-anchor="end" class="tk">4</text>
<path d="M438.30 367.34H444.30" stroke="#111" stroke-width="2"/>
<text x="435.80" y="372.54" text-anchor="end" class="tk">6</text>
<path d="M438.30 317.62H444.30" stroke="#111" stroke-width="2"/>
<text x="435.80" y="322.82" text-anchor="end" class="tk">8</text>
<path d="M444.30 516.50V522.50" stroke="#111" stroke-width="2"/>
<text x="444.60" y="538.70" text-anchor="middle" class="tk">0</text>
<path d="M543.60 516.50V522.50" stroke="#111" stroke-width="2"/>
<text x="543.90" y="538.70" text-anchor="middle" class="tk">20</text>
<path d="M642.90 516.50V522.50" stroke="#111" stroke-width="2"/>
<text x="643.20" y="538.70" text-anchor="middle" class="tk">40</text>
<path d="M742.20 516.50V522.50" stroke="#111" stroke-width="2"/>
<text x="742.50" y="538.70" text-anchor="middle" class="tk">60</text>
<text transform="translate(420 418.3) rotate(-90)" text-anchor="middle" class="lb">SUVR-1</text>
<text x="555.1" y="562.4" class="lb">Time [min]</text>
<path d="M678.1 330.7H699.4" stroke="#3550b5" stroke-width="1.35"/><circle cx="688.7" cy="330.7" r="1.3" fill="#3550b5"/>
<text x="711.3" y="336.6" class="lb">CPu</text>
</svg>
</body></html>
